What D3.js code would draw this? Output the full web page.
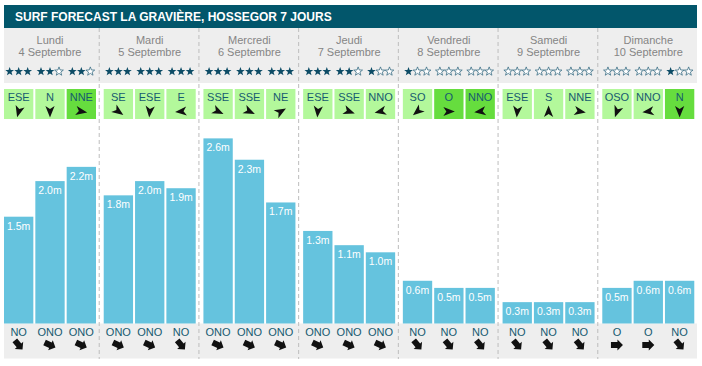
<!DOCTYPE html>
<html>
<head>
<meta charset="utf-8">
<script src="https://cdn.jsdelivr.net/npm/d3@7"></script>
<style>
  body { margin: 0; background: #fff; }
  svg { display: block; font-family: "Liberation Sans", Arial, sans-serif; }
</style>
</head>
<body>
<div id="chart"></div>
<script>
const title = "SURF FORECAST LA GRAVIÈRE, HOSSEGOR 7 JOURS";
const days = ["Lundi", "Mardi", "Mercredi", "Jeudi", "Vendredi", "Samedi", "Dimanche"];
const dates = ["4 Septembre", "5 Septembre", "6 Septembre", "7 Septembre", "8 Septembre", "9 Septembre", "10 Septembre"];
const waveHeights = [[1.5, 2.0, 2.2], [1.8, 2.0, 1.9], [2.6, 2.3, 1.7], [1.3, 1.1, 1.0], [0.6, 0.5, 0.5], [0.3, 0.3, 0.3], [0.5, 0.6, 0.6]];
const ratings = [[3, 2, 2], [3, 3, 3], [3, 3, 3], [3, 2, 1], [1, 0, 0], [0, 0, 0], [0, 0, 1]];
const windDir = [["ESE", "N", "NNE"], ["SE", "ESE", "E"], ["SSE", "SSE", "NE"], ["ESE", "SSE", "NNO"], ["SO", "O", "NNO"], ["ESE", "S", "NNE"], ["OSO", "NNO", "N"]];
const windArrow = [[195, 180, 100], [125, 185, 265], [115, 115, 60], [185, 110, 258], [230, 90, 262], [185, 0, 100], [200, 262, 180]];
const windOffshore = [[0, 0, 1], [0, 0, 0], [0, 0, 0], [0, 0, 0], [0, 1, 1], [0, 0, 0], [0, 0, 1]];
const swellDir = [["NO", "ONO", "ONO"], ["ONO", "ONO", "NO"], ["ONO", "ONO", "ONO"], ["ONO", "ONO", "ONO"], ["NO", "NO", "NO"], ["NO", "NO", "NO"], ["O", "O", "NO"]];
const swellAngle = {NO: 140, ONO: 115, O: 90};

const width = 702, height = 366;
const teal = "#02566b", textTeal = "#165a70";

const slots = [];
days.forEach((d, i) => [0, 1, 2].forEach(j => slots.push({
    day: d, slot: j,
    h: waveHeights[i][j], stars: ratings[i][j],
    wind: windDir[i][j], windAngle: windArrow[i][j], offshore: windOffshore[i][j],
    swell: swellDir[i][j]
})));

const x = d3.scaleBand().domain(days).range([0, 698]);
const xs = d3.scaleBand().domain([0, 1, 2]).range([4, 96]).paddingInner(0.064);
const sx = d => x(d.day) + xs(d.slot);
const cx = d => sx(d) + xs.bandwidth() / 2;

const base = 323.5;
const y = d3.scaleLinear().domain([0, 3]).range([base, base - 3 * 71.2]);

const svg = d3.select("#chart").append("svg")
    .attr("width", width)
    .attr("height", height);

// title
svg.append("rect").attr("x", 4).attr("y", 5).attr("width", 693).attr("height", 23).attr("fill", teal);
svg.append("text").attr("x", 15).attr("y", 20.5)
    .attr("fill", "#fff").attr("font-weight", "bold").attr("font-size", 12)
    .text(title);

// grey bands
svg.append("rect").attr("x", 4).attr("y", 28).attr("width", 693).attr("height", 55).attr("fill", "#eeeeee");
svg.append("rect").attr("x", 4).attr("y", base).attr("width", 693).attr("height", 35).attr("fill", "#eeeeee");

// day headers
const head = svg.append("g").attr("text-anchor", "middle").attr("font-size", 11).attr("fill", "#858585");
head.selectAll("text.day").data(days).enter().append("text")
    .attr("class", "day")
    .attr("x", d => x(d) + 50).attr("y", 44)
    .text(d => d);
head.selectAll("text.date").data(dates).enter().append("text")
    .attr("class", "date")
    .attr("x", (d, i) => x(days[i]) + 50).attr("y", 56)
    .text(d => d);

// stars
function starPath(R, r) {
    const pts = d3.range(10).map(k => {
        const a = k * Math.PI / 5 - Math.PI / 2;
        const rad = k % 2 ? r : R;
        return [rad * Math.cos(a), rad * Math.sin(a)];
    });
    return "M" + pts.join("L") + "Z";
}
const star = starPath(4.6, 1.9);
const starData = [];
slots.forEach(d => [0, 1, 2].forEach(k => starData.push({x: cx(d) + (k - 1) * 9, on: k < d.stars})));
svg.append("g").selectAll("path").data(starData).enter().append("path")
    .attr("d", star)
    .attr("transform", d => `translate(${d.x},71.5)`)
    .attr("fill", d => d.on ? "#0d4c66" : "#fff")
    .attr("stroke", d => d.on ? "none" : "#3b6f85")
    .attr("stroke-width", 0.8);

// wind boxes
const wind = svg.append("g").selectAll("g").data(slots).enter().append("g");
wind.append("rect")
    .attr("x", sx).attr("y", 89)
    .attr("width", xs.bandwidth()).attr("height", 30)
    .attr("fill", d => d.offshore ? "#66dd3e" : "#b3f89b");
wind.append("text")
    .attr("x", cx).attr("y", 100.5)
    .attr("text-anchor", "middle").attr("font-size", 11).attr("fill", textTeal)
    .text(d => d.wind);
wind.append("path")
    .attr("d", "M0,-6L4.6,5.5L0,2.5L-4.6,5.5Z")
    .attr("fill", "#111")
    .attr("transform", d => `translate(${cx(d)},111.5) rotate(${d.windAngle})`);

// bars
svg.append("g").selectAll("rect").data(slots).enter().append("rect")
    .attr("x", sx).attr("y", d => y(d.h))
    .attr("width", xs.bandwidth()).attr("height", d => base - y(d.h))
    .attr("fill", "#65c3de");
svg.append("g").attr("text-anchor", "middle").attr("font-size", 10.5).attr("fill", "#fff")
    .selectAll("text").data(slots).enter().append("text")
    .attr("x", cx).attr("y", d => y(d.h) + 13)
    .text(d => d.h.toFixed(1) + "m");

// swell direction
const swell = svg.append("g").selectAll("g").data(slots).enter().append("g");
swell.append("text")
    .attr("x", cx).attr("y", 336)
    .attr("text-anchor", "middle").attr("font-size", 11).attr("fill", textTeal)
    .text(d => d.swell);
swell.append("path")
    .attr("d", "M-6,-3L0.5,-3L0.5,-5.5L6,0L0.5,5.5L0.5,3L-6,3Z")
    .attr("fill", "#111")
    .attr("transform", d => `translate(${cx(d)},345) rotate(${swellAngle[d.swell] - 90})`);

// day dividers
svg.append("g").selectAll("line").data(days.slice(1)).enter().append("line")
    .attr("x1", d => x(d) - 0.5).attr("x2", d => x(d) - 0.5)
    .attr("y1", 28).attr("y2", 359)
    .attr("stroke", "#bdbdbd").attr("stroke-dasharray", "4,3");
</script>
</body>
</html>
